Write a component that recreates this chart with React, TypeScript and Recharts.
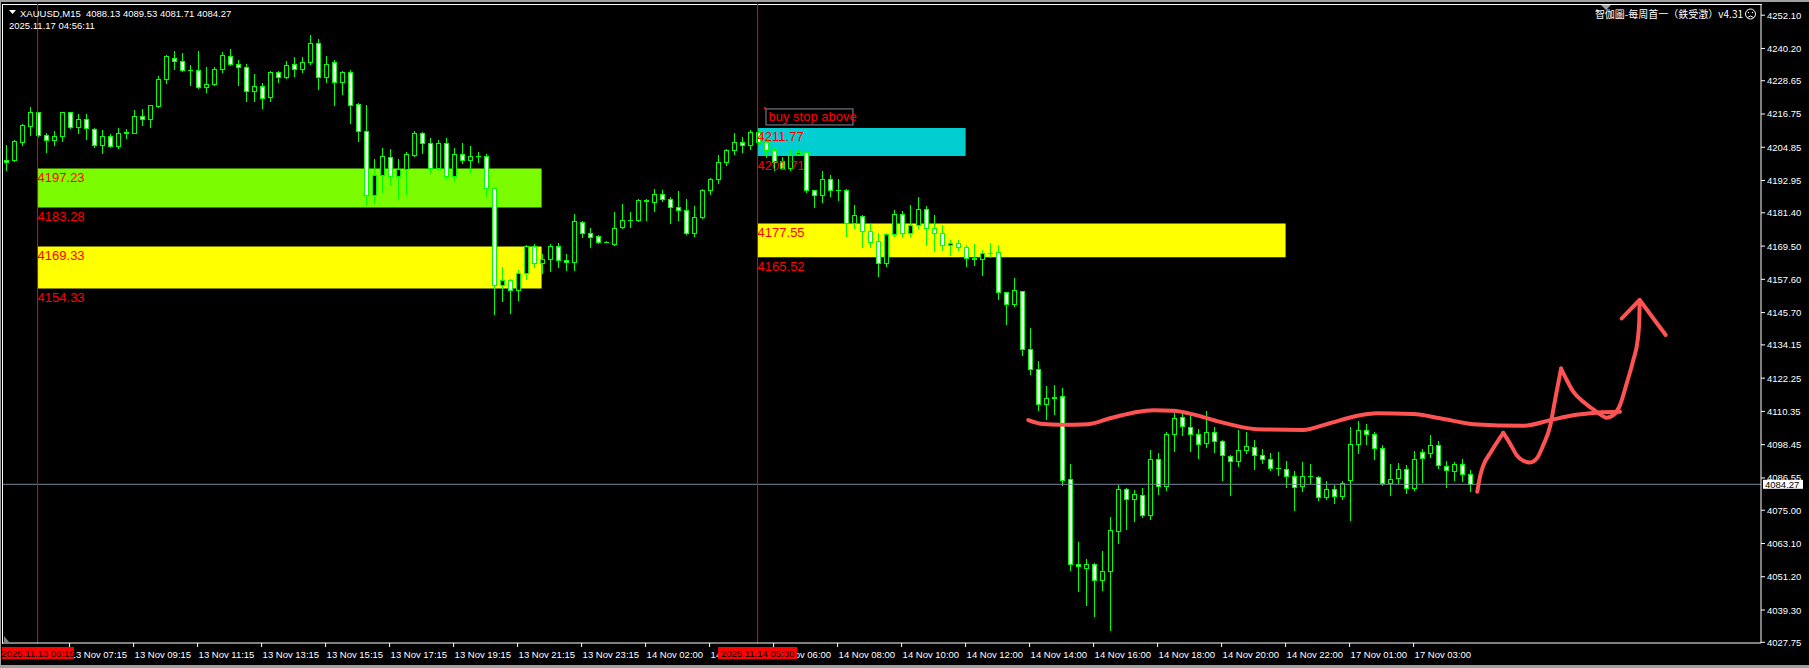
import React from 'react';
import { ComposedChart, Bar, XAxis, YAxis, ReferenceArea, ReferenceLine, ReferenceDot, Scatter } from 'recharts';

// M15 candles, index 0 = 13 Nov 05:15
const open = [
  4200.4, 4200.2, 4206.7, 4212.5, 4217.3, 4209.4, 4207.6, 4208.9, 4217.3, 4212.1,
  4215.0, 4211.5, 4205.8, 4208.7, 4205.3, 4210.1, 4210.0, 4216.2, 4215.1, 4219.6,
  4229.4, 4236.9, 4235.7, 4232.4, 4232.6, 4226.4, 4227.5, 4233.0, 4237.4, 4234.8,
  4233.4, 4225.0, 4226.9, 4222.9, 4231.6, 4230.0, 4234.5, 4233.0, 4235.2, 4242.3,
  4230.0, 4235.2, 4228.2, 4231.6, 4220.2, 4210.7, 4187.6, 4195.1, 4201.2, 4194.7,
  4197.1, 4202.2, 4209.8, 4206.2, 4197.6, 4206.5, 4194.7, 4202.6, 4200.4, 4201.6,
  4201.9, 4190.1, 4155.7, 4157.5, 4153.7, 4159.7, 4169.7, 4163.6, 4165.0, 4169.4,
  4164.6, 4163.8, 4178.1, 4174.0, 4173.0, 4171.1, 4170.1, 4176.3, 4179.0, 4179.0,
  4185.9, 4185.3, 4188.3, 4186.5, 4183.3, 4182.5, 4174.2, 4179.9, 4189.7, 4193.6,
  4199.4, 4203.8, 4206.7, 4205.6, 4210.3, 4206.7, 4204.0, 4199.8, 4197.6, 4202.5,
  4203.2, 4189.5, 4187.9, 4193.6, 4189.7, 4189.5, 4177.8, 4180.2, 4174.9, 4171.2,
  4163.3, 4173.7, 4180.9, 4174.0, 4176.9, 4182.7, 4175.8, 4174.3, 4170.0, 4170.7,
  4169.0, 4165.2, 4165.0, 4167.0, 4167.4, 4152.9, 4148.6, 4153.4, 4132.8, 4125.7,
  4113.1, 4115.3, 4115.9, 4086.2, 4055.6, 4054.5, 4055.9, 4050.2, 4053.3, 4067.5,
  4082.7, 4079.1, 4080.6, 4073.2, 4093.5, 4083.7, 4102.1, 4108.3, 4104.8, 4102.4,
  4099.0, 4103.0, 4099.8, 4094.4, 4092.6, 4096.7, 4097.6, 4094.9, 4093.5, 4090.2,
  4089.9, 4087.2, 4083.7, 4087.4, 4086.9, 4079.7, 4082.7, 4080.1, 4085.7, 4098.8,
  4103.8, 4102.4, 4097.4, 4084.9, 4086.5, 4089.9, 4083.1, 4095.8, 4095.6, 4098.5,
  4090.8, 4089.0, 4091.7, 4088.13,
];
const high = [
  4205.6, 4207.4, 4213.3, 4219.1, 4217.5, 4210.1, 4210.6, 4217.5, 4217.6, 4216.9,
  4216.6, 4211.9, 4211.2, 4209.5, 4211.8, 4211.5, 4218.1, 4218.7, 4220.1, 4230.3,
  4238.0, 4239.2, 4238.6, 4234.2, 4239.2, 4233.6, 4233.6, 4238.9, 4239.9, 4236.0,
  4234.5, 4231.2, 4228.0, 4232.0, 4232.0, 4235.6, 4237.2, 4237.2, 4244.9, 4243.7,
  4237.4, 4236.0, 4232.2, 4232.4, 4220.8, 4219.9, 4200.8, 4204.7, 4204.4, 4200.6,
  4203.0, 4210.6, 4210.3, 4208.2, 4207.3, 4208.0, 4204.7, 4206.5, 4205.2, 4203.2,
  4202.6, 4190.6, 4162.0, 4157.6, 4160.9, 4169.9, 4170.4, 4166.8, 4170.4, 4170.5,
  4166.8, 4181.1, 4178.4, 4175.8, 4173.6, 4171.3, 4181.6, 4184.4, 4181.7, 4186.2,
  4186.3, 4189.8, 4189.5, 4187.1, 4189.1, 4186.2, 4183.7, 4189.9, 4193.9, 4202.2,
  4204.4, 4210.1, 4208.5, 4210.9, 4210.9, 4208.5, 4205.0, 4201.4, 4203.8, 4203.9,
  4203.4, 4189.7, 4196.3, 4195.1, 4193.4, 4189.8, 4184.1, 4180.5, 4177.3, 4174.0,
  4174.0, 4182.3, 4182.0, 4184.1, 4187.1, 4183.7, 4180.5, 4176.9, 4171.6, 4171.6,
  4169.8, 4170.4, 4168.0, 4170.6, 4169.8, 4153.0, 4157.9, 4153.6, 4140.3, 4128.3,
  4119.3, 4119.7, 4118.9, 4091.7, 4063.5, 4057.7, 4056.0, 4060.3, 4072.6, 4083.9,
  4083.1, 4082.1, 4083.1, 4096.4, 4095.3, 4103.0, 4109.8, 4109.6, 4108.9, 4103.9,
  4110.4, 4104.6, 4100.3, 4094.9, 4103.6, 4103.0, 4100.0, 4097.0, 4095.3, 4095.8,
  4092.5, 4088.9, 4092.1, 4091.4, 4087.1, 4085.3, 4083.9, 4085.4, 4104.6, 4106.8,
  4106.0, 4103.0, 4098.2, 4091.7, 4092.0, 4091.3, 4096.1, 4096.8, 4101.8, 4099.6,
  4092.5, 4092.3, 4093.5, 4089.53,
];
const low = [
  4196.6, 4199.8, 4205.6, 4209.1, 4209.0, 4203.2, 4205.6, 4207.1, 4211.9, 4210.0,
  4207.8, 4205.0, 4202.8, 4205.0, 4204.5, 4208.3, 4209.8, 4212.7, 4212.1, 4219.1,
  4227.9, 4232.8, 4232.0, 4227.0, 4226.2, 4224.6, 4227.3, 4231.6, 4234.4, 4227.0,
  4221.3, 4221.3, 4218.9, 4221.3, 4228.2, 4229.8, 4230.4, 4231.8, 4234.8, 4225.6,
  4228.2, 4219.9, 4223.8, 4213.5, 4207.1, 4184.1, 4184.9, 4188.9, 4191.2, 4186.2,
  4188.0, 4201.7, 4202.8, 4195.5, 4197.2, 4193.9, 4192.7, 4199.2, 4196.0, 4199.6,
  4187.3, 4145.3, 4149.9, 4145.6, 4150.1, 4157.6, 4162.0, 4159.9, 4160.6, 4162.0,
  4160.9, 4161.1, 4172.8, 4169.2, 4170.6, 4170.9, 4169.8, 4175.8, 4176.3, 4178.5,
  4178.7, 4182.1, 4185.5, 4177.8, 4178.7, 4173.8, 4173.1, 4179.7, 4188.3, 4192.1,
  4198.4, 4202.6, 4203.0, 4204.4, 4206.0, 4201.4, 4196.6, 4196.9, 4196.6, 4202.0,
  4188.9, 4183.5, 4185.3, 4187.3, 4185.9, 4173.1, 4176.1, 4169.2, 4169.2, 4158.7,
  4162.4, 4173.1, 4172.8, 4173.0, 4175.8, 4169.8, 4167.8, 4168.0, 4166.2, 4168.0,
  4162.4, 4162.6, 4159.1, 4165.6, 4150.7, 4141.8, 4148.0, 4130.7, 4123.9, 4110.7,
  4107.8, 4109.6, 4084.2, 4053.5, 4046.1, 4041.0, 4037.1, 4046.3, 4032.0, 4063.3,
  4068.4, 4071.1, 4072.6, 4072.0, 4080.9, 4082.1, 4096.2, 4101.8, 4096.2, 4093.7,
  4097.6, 4095.8, 4085.7, 4080.3, 4090.7, 4095.5, 4089.6, 4091.9, 4089.5, 4087.5,
  4083.3, 4075.0, 4081.9, 4084.7, 4078.8, 4079.1, 4077.6, 4079.1, 4071.6, 4095.3,
  4098.8, 4093.5, 4084.2, 4080.6, 4084.7, 4081.3, 4082.4, 4085.1, 4094.0, 4090.1,
  4083.3, 4085.7, 4085.3, 4081.71,
];
const close = [
  4199.5, 4207.0, 4212.7, 4217.3, 4209.4, 4207.6, 4209.0, 4217.3, 4212.1, 4215.1,
  4211.9, 4205.8, 4209.0, 4205.3, 4210.1, 4210.2, 4216.2, 4215.1, 4219.9, 4229.4,
  4237.4, 4235.7, 4232.4, 4232.6, 4226.4, 4227.6, 4233.0, 4237.8, 4234.8, 4233.4,
  4225.0, 4226.9, 4222.6, 4231.6, 4230.0, 4234.2, 4233.0, 4235.2, 4242.3, 4230.0,
  4234.8, 4228.2, 4231.6, 4220.1, 4210.7, 4187.9, 4195.1, 4201.6, 4194.7, 4197.1,
  4202.3, 4209.8, 4206.2, 4197.6, 4206.5, 4194.7, 4202.6, 4200.4, 4201.6, 4201.7,
  4190.1, 4155.7, 4157.5, 4153.7, 4159.7, 4169.7, 4163.6, 4165.0, 4169.4, 4164.6,
  4163.8, 4178.4, 4174.0, 4172.8, 4171.1, 4171.1, 4176.1, 4179.0, 4179.0, 4185.9,
  4185.5, 4188.3, 4186.5, 4183.5, 4182.5, 4174.2, 4179.9, 4189.7, 4193.6, 4199.4,
  4203.8, 4206.7, 4205.6, 4210.3, 4206.7, 4204.0, 4199.6, 4197.6, 4202.0, 4203.1,
  4189.5, 4187.9, 4193.6, 4189.7, 4189.5, 4177.8, 4180.5, 4174.9, 4171.0, 4163.3,
  4173.7, 4180.9, 4174.0, 4176.9, 4182.7, 4175.8, 4174.2, 4170.0, 4170.6, 4169.0,
  4165.4, 4165.0, 4167.0, 4167.2, 4152.9, 4148.6, 4153.7, 4132.8, 4125.7, 4113.1,
  4115.3, 4115.5, 4085.9, 4055.6, 4054.9, 4055.9, 4050.2, 4053.3, 4068.0, 4082.7,
  4079.1, 4080.9, 4073.2, 4093.5, 4083.7, 4102.2, 4108.1, 4105.0, 4102.4, 4098.8,
  4103.0, 4099.8, 4094.6, 4092.6, 4096.7, 4098.0, 4094.9, 4093.5, 4090.2, 4090.1,
  4087.2, 4083.3, 4087.4, 4087.1, 4079.7, 4082.7, 4080.1, 4084.9, 4098.8, 4103.6,
  4102.4, 4097.4, 4084.9, 4086.3, 4089.9, 4083.1, 4093.5, 4093.8, 4098.5, 4091.3,
  4089.3, 4091.7, 4088.1, 4084.27,
];

const priceTicks = [
  4252.1, 4240.2, 4228.65, 4216.75, 4204.85, 4192.95, 4181.4, 4169.5, 4157.6, 4145.7,
  4134.15, 4122.25, 4110.35, 4098.45, 4086.55, 4075.0, 4063.1, 4051.2, 4039.3, 4027.75,
];
const timeTickIdx = [8, 16, 24, 32, 40, 48, 56, 64, 72, 80, 88, 96, 104, 112, 120, 128, 136, 144, 152, 160, 168, 176];
const timeTickLabels = [
  '13 Nov 07:15', '13 Nov 09:15', '13 Nov 11:15', '13 Nov 13:15', '13 Nov 15:15', '13 Nov 17:15',
  '13 Nov 19:15', '13 Nov 21:15', '13 Nov 23:15', '14 Nov 02:00', '14 Nov 04:00', '14 Nov 06:00',
  '14 Nov 08:00', '14 Nov 10:00', '14 Nov 12:00', '14 Nov 14:00', '14 Nov 16:00', '14 Nov 18:00',
  '14 Nov 20:00', '14 Nov 22:00', '17 Nov 01:00', '17 Nov 03:00',
];

// vertical time lines
const vlineIdx = [4, 94];
const vlineLabels = ['2025.11.13 06:15', '2025.11.14 05:30'];

// zones
const zoneFrom = [4, 4, 94, 94];
const zoneTo = [67, 67, 120, 160];
const zoneTop = [4197.23, 4169.33, 4211.77, 4177.55];
const zoneBottom = [4183.28, 4154.33, 4201.71, 4165.52];
const zoneColors = ['#7cfc00', '#ffff00', '#00ced1', '#ffff00'];

const bid = 4084.27;
const noteAt = { i: 94.86, p: 4219.1 };

// hand-drawn red strokes (index, price)
const drawnFlat = [
  [127.84, 4107.25], [129.71, 4105.83], [131.8, 4105.6], [135.34, 4105.8], [138.05, 4107.9],
  [140.96, 4109.9], [143.46, 4110.8], [145.96, 4110.6], [148.46, 4109.3], [151.8, 4106.6],
  [156.39, 4104.0], [162.21, 4103.7], [165.14, 4105.8], [169.3, 4109.0], [171.39, 4109.7],
  [175.96, 4109.4], [179.3, 4107.9], [183.46, 4105.8], [189.71, 4105.2], [193.05, 4107.2],
  [195.96, 4109.0], [198.89, 4109.9], [201.8, 4110.2],
];
const drawnUp1 = [[183.96, 4081.6], [184.3, 4087.0], [184.68, 4090.8], [185.55, 4095.3], [187.21, 4102.7]];
const drawnUp2 = [
  [187.21, 4102.7], [188.05, 4098.9], [188.89, 4094.7], [189.71, 4092.7], [190.55, 4092.1],
  [191.39, 4093.5], [192.21, 4098.3], [193.05, 4104.9], [193.68, 4114.4], [194.43, 4125.7],
];
const drawnUp3 = [
  [194.43, 4125.7], [195.14, 4121.6], [195.96, 4117.4], [197.21, 4113.8], [198.89, 4110.2],
  [200.14, 4108.1], [200.96, 4109.0], [201.8, 4112.6], [202.64, 4120.4], [203.46, 4128.7],
  [204.01, 4135.9], [204.21, 4143.0], [204.26, 4150.2],
];
const drawnHead = [[202.01, 4143.6], [204.26, 4150.2], [207.51, 4137.7]];

const toPts = (arr: number[][]) => arr.map(([i, p]) => ({ i, p }));

const data = open.map((o, i) => ({ i, o, h: high[i], l: low[i], c: close[i], range: [low[i], high[i]] }));
const PMIN = 4027.5;
const PMAX = 4256.1;

const FONT = '"Liberation Sans", Arial, sans-serif';
const GREEN = '#00ff00';
const INK = '#ff5252';

const Candle = (props: any) => {
  const { x, y, width, height, payload } = props;
  if (!payload) return null;
  const { o, h, l, c } = payload;
  const top0 = Math.min(y, y + height);
  const ht = Math.abs(height);
  const k = h > l ? ht / (h - l) : 0;
  const yOf = (p: number) => top0 + (h - p) * k;
  const cx = Math.round(x + width / 2);
  const bt = Math.round(yOf(Math.max(o, c)));
  const bb = Math.round(yOf(Math.min(o, c)));
  const bull = c >= o;
  return (
    <g>
      <line x1={cx + 0.5} x2={cx + 0.5} y1={Math.round(top0)} y2={Math.round(top0 + ht) + 1} stroke={GREEN} />
      {bb - bt < 1 ? (
        <line x1={cx - 2} x2={cx + 3} y1={bt + 0.5} y2={bt + 0.5} stroke={GREEN} />
      ) : (
        <rect x={cx - 1.5} y={bt + 0.5} width={4} height={bb - bt} fill={bull ? '#000' : '#fff'} stroke={GREEN} />
      )}
    </g>
  );
};

const YTick = ({ x, y, payload }: any) => (
  <text x={x} y={y + 3.5} fill="#fff" fontSize={9.5} fontFamily={FONT}>
    {Number(payload.value).toFixed(2)}
  </text>
);

const TimeTag = (text: string) => (s: any) => (
  <text x={s.cx + 1} y={s.cy + 14.5} fill="#fff" fontSize={9.5} fontFamily={FONT}>
    {text}
  </text>
);

const PriceTag = (text: string) => (s: any) => (
  <text x={s.cx} y={s.cy + 13.5} fill="#ff0000" fontSize={13} fontFamily={FONT}>
    {text}
  </text>
);

const TimeBox = (text: string) => (s: any) => {
  const left = Math.max(s.cx - 39.5, 2);
  const w = left > s.cx - 39.5 ? 72 : 79;
  return (
    <g>
      <rect x={left} y={s.cy + 4} width={w} height={12} fill="#ff0000" />
      <text x={left + w / 2} y={s.cy + 13.5} textAnchor="middle" fill="#000" fontSize={9.5} fontFamily={FONT}>
        {text}
      </text>
    </g>
  );
};

const BidBox = (s: any) => (
  <g>
    <rect x={s.cx + 2} y={s.cy - 4.5} width={40} height={9} fill="#fff" />
    <text x={s.cx + 4} y={s.cy + 3.5} fill="#000" fontSize={9.5} fontFamily={FONT}>
      {bid.toFixed(2)}
    </text>
  </g>
);

const Note = (s: any) => (
  <g>
    <rect x={s.cx - 0.5} y={s.cy - 0.5} width={2} height={2} fill="#ff0000" />
    <rect x={s.cx + 1.5} y={s.cy + 1.5} width={87} height={16} fill="none" stroke="#8a8a9a" />
    <text x={s.cx + 4} y={s.cy + 14} fill="#ff0000" fontSize={13} fontFamily={FONT}>
      buy stop above
    </text>
  </g>
);

const noShape = () => <g />;

export default function App() {
  return (
    <div style={{ position: 'fixed', left: 0, top: 0, width: 1809, height: 668, background: '#000', overflow: 'hidden' }}>
      <div style={{ position: 'absolute', left: 0, top: 0, width: 1809, height: 2, background: '#a0a0a0' }} />
      <div style={{ position: 'absolute', left: 0, top: 665, width: 1809, height: 3, background: '#a0a0a0' }} />
      <div style={{ position: 'absolute', left: 0, top: 0, width: 1, height: 668, background: '#a0a0a0' }} />
      <div style={{ position: 'absolute', left: 2, top: 4, width: 1760, height: 1, background: '#fff' }} />
      <div style={{ position: 'absolute', left: 2, top: 4, width: 1, height: 640, background: '#fff' }} />
      <ComposedChart width={1809} height={668} data={data} margin={{ top: 4, right: 0, bottom: 0, left: 3 }}>
        <XAxis
          type="number"
          dataKey="i"
          domain={[-0.325, 219.425]}
          allowDataOverflow
          ticks={timeTickIdx}
          interval={0}
          height={25}
          tickSize={4}
          tickMargin={2}
          tick={noShape}
          axisLine={{ stroke: '#fff' }}
          tickLine={{ stroke: '#fff' }}
        />
        <YAxis
          orientation="right"
          width={48}
          domain={[PMIN, PMAX]}
          allowDataOverflow
          ticks={priceTicks}
          interval={0}
          tickSize={4}
          tickMargin={2}
          tick={<YTick />}
          axisLine={{ stroke: '#fff' }}
          tickLine={{ stroke: '#fff' }}
        />
        {zoneTop.map((t, k) => (
          <ReferenceArea
            key={'z' + k}
            x1={zoneFrom[k]}
            x2={zoneTo[k]}
            y1={zoneBottom[k]}
            y2={t}
            fill={zoneColors[k]}
            fillOpacity={1}
            stroke="none"
            ifOverflow="visible"
          />
        ))}
        <ReferenceLine y={bid} stroke="#778899" ifOverflow="visible" />
        {vlineIdx.map((v) => (
          <ReferenceLine key={'v' + v} x={v} stroke="#ff0000" ifOverflow="visible" />
        ))}
        <Bar dataKey="range" barSize={5} shape={<Candle />} isAnimationActive={false} />
        {zoneTop.map((t, k) => (
          <ReferenceDot key={'lt' + k} x={zoneFrom[k]} y={t} r={0} ifOverflow="visible" shape={PriceTag(t.toFixed(2))} />
        ))}
        {zoneBottom.map((b, k) => (
          <ReferenceDot key={'lb' + k} x={zoneFrom[k]} y={b} r={0} ifOverflow="visible" shape={PriceTag(b.toFixed(2))} />
        ))}
        <ReferenceDot x={noteAt.i} y={noteAt.p} r={0} ifOverflow="visible" shape={Note} />
        {timeTickIdx.map((t, k) => (
          <ReferenceDot key={'tt' + t} x={t} y={PMIN} r={0} ifOverflow="visible" shape={TimeTag(timeTickLabels[k])} />
        ))}
        {vlineIdx.map((v, k) => (
          <ReferenceDot key={'tb' + v} x={v} y={PMIN} r={0} ifOverflow="visible" shape={TimeBox(vlineLabels[k])} />
        ))}
        <ReferenceDot x={219.425} y={bid} r={0} ifOverflow="visible" shape={BidBox} />
        {[drawnFlat, drawnUp1, drawnUp2, drawnUp3].map((d, k) => (
          <Scatter
            key={'d' + k}
            data={toPts(d)}
            dataKey="p"
            line={{ stroke: INK, strokeWidth: 4, strokeLinecap: 'round', strokeLinejoin: 'round' }}
            lineJointType="monotoneX"
            shape={noShape}
            isAnimationActive={false}
          />
        ))}
        <Scatter
          data={toPts(drawnHead)}
          dataKey="p"
          line={{ stroke: INK, strokeWidth: 4, strokeLinecap: 'round', strokeLinejoin: 'round' }}
          lineJointType="linear"
          shape={noShape}
          isAnimationActive={false}
        />
      </ComposedChart>
      <svg width={1809} height={668} style={{ position: 'absolute', left: 0, top: 0, pointerEvents: 'none' }}>
        <polygon points="9,10 16,10 12.5,14" fill="#fff" />
        <text x={20} y={17} fill="#fff" fontSize={9.5} fontFamily={FONT} style={{ whiteSpace: 'pre' }}>
          {'XAUUSD,M15  4088.13 4089.53 4081.71 4084.27'}
        </text>
        <text x={9} y={29} fill="#fff" fontSize={9.5} fontFamily={FONT}>
          2025.11.17 04:56:11
        </text>
        <text x={1743} y={18} textAnchor="end" fill="#fff" fontSize={10} fontFamily='"Noto Sans CJK SC", sans-serif'>
          智伽圖-每周首一（鉄受澂）v4.31
        </text>
        <circle cx={1750.5} cy={14} r={5} fill="none" stroke="#fff" />
        <circle cx={1748.5} cy={12.5} r={0.7} fill="#fff" />
        <circle cx={1752.5} cy={12.5} r={0.7} fill="#fff" />
        <path d="M1747.5,17.5 Q1750.5,14.5 1753.5,17.5" fill="none" stroke="#fff" />
        <polygon points="1601,5 1611,5 1606,10" fill="#a0a0a0" />
        <polygon points="4,636 4,643 10,643" fill="#808080" />
      </svg>
    </div>
  );
}
